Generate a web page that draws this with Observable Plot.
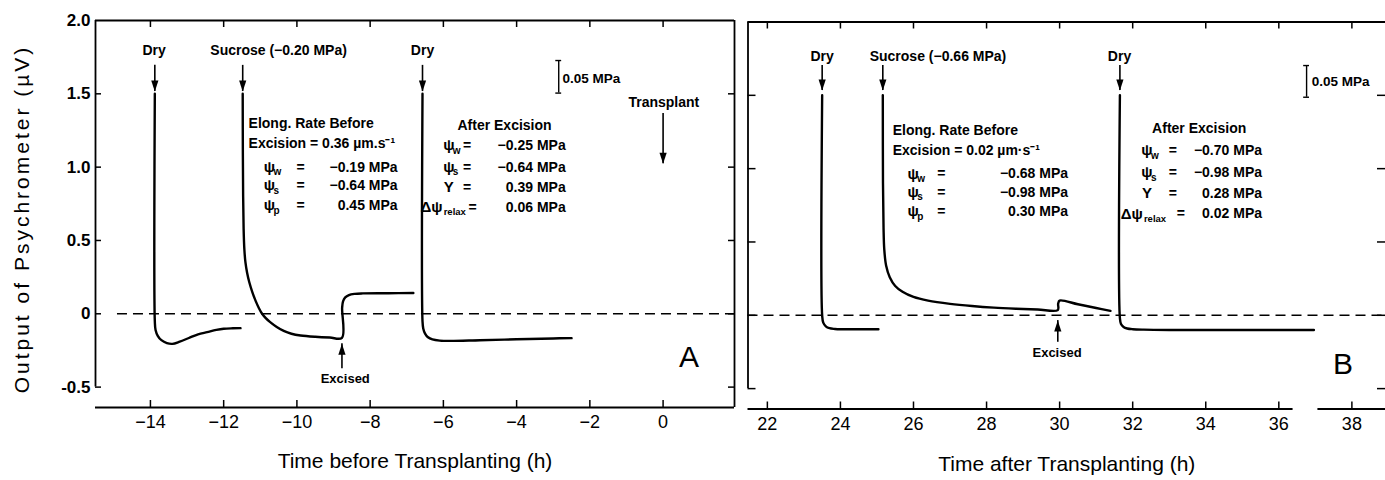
<!DOCTYPE html>
<html><head><meta charset="utf-8">
<script src="https://cdn.jsdelivr.net/npm/d3@7"></script>
<script src="https://cdn.jsdelivr.net/npm/@observablehq/plot@0.6"></script>
<style>
body{margin:0;background:#fff;}
#wrap{position:relative;width:1385px;height:480px;overflow:hidden;background:#fff;}
#wrap svg{position:absolute;top:0;overflow:visible;}
</style></head><body><div id="wrap"></div>
<script>
// ---------------- DATA ----------------
const xTicksA = [-14, -12, -10, -8, -6, -4, -2, 0];
const xTicksB = [22, 24, 26, 28, 30, 32, 34, 36, 38];
const yTicks = [2.0, 1.5, 1.0, 0.5, 0, -0.5];
const xDomainA = [-15.5, 1.95];
const xDomainB = [21.47, 38.92];
const yDomain = [-0.639, 2.0];
const axisBreakB = [36.39, 37.07];

// Panel A traces (hours before transplanting, µV)
const dryA1Hours  = [-13.88, -13.88, -13.86, -13.8, -13.7, -13.55, -13.4, -13.2, -12.95, -12.7, -12.45, -12.2, -12.0, -11.75, -11.54];
const dryA1Values = [1.5, -0.05, -0.11, -0.15, -0.18, -0.2, -0.205, -0.19, -0.165, -0.14, -0.125, -0.11, -0.102, -0.099, -0.098];
const sucA1Hours  = [-11.48, -11.476, -11.468, -11.455, -11.435, -11.405, -11.36, -11.3, -11.22, -11.13, -11.04, -10.95, -10.85, -10.73, -10.55, -10.36, -10.15, -9.9, -9.5, -9.1, -8.77, -8.765, -8.74, -8.68, -8.58, -8.42, -8.2, -7.5, -6.82];
const sucA1Values = [1.5, 1.1, 0.8, 0.58, 0.44, 0.35, 0.28, 0.215, 0.15, 0.09, 0.04, 0.0, -0.03, -0.057, -0.09, -0.117, -0.136, -0.148, -0.157, -0.162, -0.164, 0.04, 0.085, 0.112, 0.128, 0.136, 0.139, 0.14, 0.142];
const dryA2Hours  = [-6.57, -6.57, -6.55, -6.5, -6.42, -6.3, -6.1, -5.8, -5.0, -4.0, -3.0, -2.5];
const dryA2Values = [1.5, -0.05, -0.1, -0.135, -0.16, -0.175, -0.183, -0.185, -0.18, -0.174, -0.168, -0.166];

// Panel B traces (hours after transplanting, µV)
const dryB1Hours  = [23.5, 23.5, 23.53, 23.6, 23.7, 23.85, 24.0, 24.5, 25.04];
const dryB1Values = [1.5, 0.0, -0.05, -0.075, -0.088, -0.093, -0.095, -0.095, -0.095];
const sucB1Hours  = [25.16, 25.165, 25.18, 25.2, 25.25, 25.35, 25.5, 25.7, 26.0, 26.4, 27.0, 27.6, 28.2, 28.8, 29.4, 29.95, 29.96, 30.0, 30.5, 31.0, 31.39];
const sucB1Values = [1.5, 0.9, 0.6, 0.45, 0.34, 0.26, 0.2, 0.16, 0.125, 0.1, 0.078, 0.063, 0.052, 0.045, 0.04, 0.036, 0.08, 0.1, 0.075, 0.05, 0.03];
const dryB2Hours  = [31.65, 31.65, 31.68, 31.75, 31.85, 32.0, 32.3, 33.0, 34.0, 35.0, 36.0, 36.96];
const dryB2Values = [1.5, -0.02, -0.06, -0.08, -0.09, -0.095, -0.098, -0.1, -0.1, -0.1, -0.1, -0.1];

// Event labels
const eventLabelsA = ["Dry", "Sucrose (−0.20 MPa)", "Dry"];
const eventLabelHoursA = [-13.9, -10.5, -6.57];
const eventArrowHoursA = [-13.88, -11.48, -6.57];
const eventLabelsB = ["Dry", "Sucrose (−0.66 MPa)", "Dry"];
const eventLabelHoursB = [23.5, 26.67, 31.64];
const eventArrowHoursB = [23.5, 25.16, 31.65];

// Water relations text
const beforeHeadA = ["Elong. Rate Before", "Excision = 0.36 µm.s⁻¹"];
const beforeHeadB = ["Elong. Rate Before", "Excision = 0.02 µm·s⁻¹"];
const beforeSyms = ["ψ", "ψ", "ψ"];
const beforeSubs = ["w", "s", "p"];
const beforeValsA = ["−0.19 MPa", "−0.64 MPa", "0.45 MPa"];
const beforeValsB = ["−0.68 MPa", "−0.98 MPa", "0.30 MPa"];
const afterSyms = ["ψ", "ψ", "Y"];
const afterSubs = ["w", "s", ""];
const afterValsA = ["−0.25 MPa", "−0.64 MPa", "0.39 MPa"];
const afterValsB = ["−0.70 MPa", "−0.98 MPa", "0.28 MPa"];
const relaxSym = "Δψ", relaxSub = "relax";
const relaxValA = "0.06 MPa", relaxValB = "0.02 MPa";

// ---------------- HELPERS ----------------
const FONT = "'Liberation Sans', Arial, sans-serif";
const H = 480;
const triDown = {draw(ctx) { ctx.moveTo(0, 0); ctx.lineTo(-3.6, -11); ctx.lineTo(3.6, -11); ctx.closePath(); }};
const triUp = {draw(ctx) { ctx.moveTo(0, 0); ctx.lineTo(-3.6, 11); ctx.lineTo(3.6, 11); ctx.closePath(); }};
const rows = (hs, vs) => hs.map((h, i) => ({h, v: vs[i]}));
const minus = d => d < 0 ? "−" + Math.abs(d) : String(d);
const bold = {fontWeight: "bold", fontSize: 14, fill: "black"};
const at = (x, y) => ({x: () => x, y: () => y});

function frameMarks(cfg) {
  const {xd, fw, fh, ticksX, rightFrame, rightTicks, bottomSegs, dashFrom} = cfg;
  const m = [];
  m.push(Plot.ruleX([xd[0]], {y1: -0.5, y2: 2, strokeWidth: 1.8}));
  if (rightFrame) m.push(Plot.ruleX([xd[1]], {y1: yDomain[0], y2: 2, strokeWidth: 1.8}));
  m.push(Plot.ruleY([2], {strokeWidth: 1.8}));
  m.push(Plot.ruleY(bottomSegs, {y: yDomain[0], x1: d => d[0], x2: d => d[1], strokeWidth: 1.8}));
  m.push(Plot.tickX(ticksX, {x: d => d, insetTop: fh - 7, strokeWidth: 1.5}));
  m.push(Plot.tickX(ticksX, {x: d => d, insetBottom: fh - 7, strokeWidth: 1.5}));
  m.push(Plot.tickY(yTicks.filter(v => v < 2), {y: d => d, insetRight: fw - 6, strokeWidth: 1.5}));
  if (rightTicks) m.push(Plot.tickY(yTicks.filter(v => v < 2), {y: d => d, insetLeft: fw - 6, strokeWidth: 1.5}));
  m.push(Plot.ruleY([0], {x1: dashFrom, x2: xd[1], strokeDasharray: "10,6", strokeWidth: 1.5}));
  return m;
}

function arrowMarks(list, dir) {
  return [
    Plot.ruleX(list, {x: "h", y1: "from", y2: "to", strokeWidth: 1.6}),
    Plot.dot(list, {x: "h", y: "to", symbol: dir === "down" ? triDown : triUp, fill: "black", stroke: "none", r: 4})
  ];
}

// symbol column (centered), "=" column (centered), value column (right aligned)
function psiRows(syms, subs, vals, vs, xSym, xEq, xVal) {
  const data = syms.map((sym, i) => ({sym, s: subs[i], val: vals[i], v: vs[i]}));
  return [
    Plot.text(data, {x: () => xSym, y: "v", text: "sym", ...bold, fontSize: 15}),
    Plot.text(data.filter(d => d.s), {x: () => xSym, y: "v", text: "s", dx: 4, dy: 5, textAnchor: "start", fontWeight: "bold", fontSize: 10}),
    Plot.text(data, {x: () => xEq, y: "v", text: () => "=", ...bold}),
    Plot.text(data, {x: () => xVal, y: "v", text: "val", textAnchor: "end", ...bold})
  ];
}
function relaxRow(val, v, xSymEnd, xEq, xVal) {
  return [
    Plot.text([relaxSym], {...at(xSymEnd, v), text: d => d, textAnchor: "end", ...bold, fontSize: 15}),
    Plot.text([relaxSub], {...at(xSymEnd, v), text: d => d, dx: 1, dy: 5, textAnchor: "start", fontWeight: "bold", fontSize: 9.5}),
    Plot.text(["="], {...at(xEq, v), text: d => d, ...bold}),
    Plot.text([val], {...at(xVal, v), text: d => d, textAnchor: "end", ...bold})
  ];
}

// ---------------- PANEL A ----------------
const mA = {left: 95, right: 8, top: 20, bottom: 73, width: 742};
const fwA = mA.width - mA.left - mA.right, fhA = H - mA.top - mA.bottom;
const plotA = Plot.plot({
  width: mA.width, height: H,
  marginLeft: mA.left, marginRight: mA.right, marginTop: mA.top, marginBottom: mA.bottom,
  x: {domain: xDomainA}, y: {domain: yDomain},
  style: {fontFamily: FONT, background: "transparent", overflow: "visible", color: "black"},
  marks: [
    ...frameMarks({xd: xDomainA, fw: fwA, fh: fhA, ticksX: xTicksA, rightFrame: true, rightTicks: true, bottomSegs: [xDomainA], dashFrom: -14.9}),
    Plot.line(rows(dryA1Hours, dryA1Values), {x: "h", y: "v", strokeWidth: 2.4, curve: "catmull-rom"}),
    Plot.line(rows(sucA1Hours, sucA1Values), {x: "h", y: "v", strokeWidth: 2.4, curve: "catmull-rom"}),
    Plot.line(rows(dryA2Hours, dryA2Values), {x: "h", y: "v", strokeWidth: 2.4, curve: "catmull-rom"}),
    Plot.axisX({ticks: xTicksA, tickSize: 0, tickPadding: 8, fontSize: 18, tickFormat: minus, label: null}),
    Plot.axisY({ticks: yTicks, tickSize: 0, tickPadding: 5, fontSize: 17, fontWeight: "bold", label: null,
      tickFormat: d => d === 0 ? "0" : d < 0 ? "-" + Math.abs(d).toFixed(1) : d.toFixed(1)}),
    Plot.text(["Output of Psychrometer (µV)"], {frameAnchor: "left", textAnchor: "middle", rotate: -90, dx: -73, dy: 5, fontSize: 21, text: d => d}),
    Plot.text(["Time before Transplanting (h)"], {frameAnchor: "bottom", dy: 60, fontSize: 21, text: d => d}),
    Plot.text(eventLabelsA.map((t, i) => ({t, h: eventLabelHoursA[i]})), {x: "h", y: () => 1.796, text: "t", ...bold}),
    ...arrowMarks(eventArrowHoursA.map(h => ({h, from: 1.694, to: 1.516})), "down"),
    Plot.text(beforeHeadA.map((t, i) => ({t, v: [1.296, 1.16][i]})), {x: () => -11.32, y: "v", text: "t", textAnchor: "start", ...bold}),
    ...psiRows(beforeSyms, beforeSubs, beforeValsA, [1.0, 0.875, 0.739], -10.75, -9.9, -7.25),
    Plot.text(["After Excision"], {...at(-4.33, 1.284), text: d => d, ...bold}),
    ...psiRows(afterSyms, afterSubs, afterValsA, [1.148, 1.0, 0.864], -5.85, -5.35, -2.66),
    ...relaxRow(relaxValA, 0.727, -6.02, -5.2, -2.66),
    Plot.ruleX([-2.85], {y1: 1.505, y2: 1.727, strokeWidth: 1.4}),
    Plot.ruleY([1.505, 1.727], {x1: -2.93, x2: -2.77, strokeWidth: 1.4}),
    Plot.text(["0.05 MPa"], {...at(-2.75, 1.603), text: d => d, textAnchor: "start", ...bold, fontSize: 13.5}),
    Plot.text(["Transplant"], {...at(0.02, 1.443), text: d => d, ...bold}),
    ...arrowMarks([{h: 0, from: 1.366, to: 1.023}], "down"),
    ...arrowMarks([{h: -8.77, from: -0.375, to: -0.205}], "up"),
    Plot.text(["Excised"], {...at(-8.68, -0.443), text: d => d, ...bold, fontSize: 13}),
    Plot.text(["A"], {...at(0.71, -0.296), text: d => d, fontSize: 30, fill: "black"})
  ]
});

// ---------------- PANEL B ----------------
const mB = {left: 7.5, right: 0, top: 21.5, bottom: 71.5, width: 645};
const fwB = mB.width - mB.left - mB.right, fhB = H - mB.top - mB.bottom;
const plotB = Plot.plot({
  width: mB.width, height: H,
  marginLeft: mB.left, marginRight: mB.right, marginTop: mB.top, marginBottom: mB.bottom,
  x: {domain: xDomainB}, y: {domain: yDomain, axis: null},
  style: {fontFamily: FONT, background: "transparent", overflow: "visible", color: "black"},
  marks: [
    ...frameMarks({xd: xDomainB, fw: fwB - 2, fh: fhB, ticksX: xTicksB, rightFrame: false, rightTicks: true,
      bottomSegs: [[xDomainB[0], axisBreakB[0]], [axisBreakB[1], xDomainB[1]]], dashFrom: xDomainB[0]}),
    Plot.line(rows(dryB1Hours, dryB1Values), {x: "h", y: "v", strokeWidth: 2.4, curve: "catmull-rom"}),
    Plot.line(rows(sucB1Hours, sucB1Values), {x: "h", y: "v", strokeWidth: 2.4, curve: "catmull-rom"}),
    Plot.line(rows(dryB2Hours, dryB2Values), {x: "h", y: "v", strokeWidth: 2.4, curve: "catmull-rom"}),
    Plot.axisX({ticks: xTicksB, tickSize: 0, tickPadding: 8, fontSize: 18, label: null}),
    Plot.text(["Time after Transplanting (h)"], {frameAnchor: "bottom", dy: 61.5, fontSize: 21, text: d => d}),
    Plot.text(eventLabelsB.map((t, i) => ({t, h: eventLabelHoursB[i]})), {x: "h", y: () => 1.762, text: "t", ...bold}),
    ...arrowMarks(eventArrowHoursB.map(h => ({h, from: 1.703, to: 1.533})), "down"),
    Plot.text(beforeHeadB.map((t, i) => ({t, v: [1.26, 1.123][i]})), {x: () => 25.43, y: "v", text: "t", textAnchor: "start", ...bold}),
    ...psiRows(beforeSyms, beforeSubs, beforeValsB, [0.965, 0.839, 0.707], 25.99, 26.76, 30.23),
    Plot.text(["After Excision"], {...at(33.82, 1.271), text: d => d, ...bold}),
    ...psiRows(afterSyms, afterSubs, afterValsB, [1.123, 0.975, 0.832], 32.39, 33.1, 35.54),
    ...relaxRow(relaxValB, 0.692, 32.28, 33.32, 35.54),
    Plot.ruleX([36.76], {y1: 1.487, y2: 1.703, strokeWidth: 1.4}),
    Plot.ruleY([1.487, 1.703], {x1: 36.68, x2: 36.84, strokeWidth: 1.4}),
    Plot.text(["0.05 MPa"], {...at(36.9, 1.595), text: d => d, textAnchor: "start", ...bold, fontSize: 13.5}),
    ...arrowMarks([{h: 29.95, from: -0.184, to: -0.036}], "up"),
    Plot.text(["Excised"], {...at(29.93, -0.259), text: d => d, ...bold, fontSize: 13}),
    Plot.text(["B"], {...at(37.76, -0.332), text: d => d, fontSize: 30, fill: "black"})
  ]
});

const wrap = document.getElementById("wrap");
plotA.style.left = "0px";
plotB.style.left = "740px";
wrap.appendChild(plotA);
wrap.appendChild(plotB);
d3.select(plotA).selectAll("text").filter(function() { return this.textContent.startsWith("Output"); }).attr("letter-spacing", 3);
</script></body></html>
